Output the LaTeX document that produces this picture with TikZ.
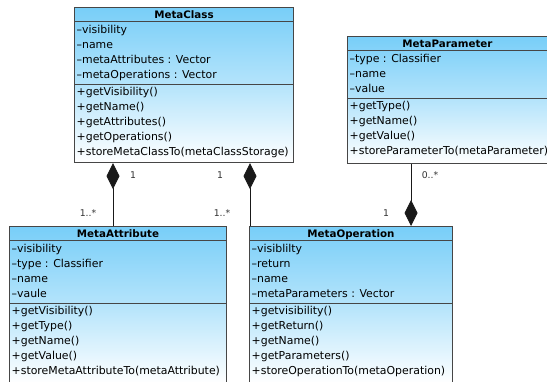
\documentclass[tikz,border=0pt]{standalone}
\usepackage{fontspec}
\setmainfont{DejaVu Sans}
\usepackage{xcolor}
\usepackage{tikz}
\usetikzlibrary{arrows.meta,calc}
\definecolor{umlblue}{RGB}{120,206,248}
\definecolor{umlline}{RGB}{70,70,70}
\tikzset{
  classbox/.style={anchor=north west,inner sep=0pt,draw=umlline,line width=1pt,
    top color=umlblue,bottom color=white,middle color=umlblue!55!white},
  classtitle/.style={anchor=base,inner sep=0pt,font=\bfseries\fontsize{10.3}{12}\selectfont},
  members/.style={anchor=north west,inner sep=0pt,align=left,
    font=\fontsize{10.9}{15}\selectfont},
  divider/.style={draw=umlline,line width=1pt},
  mult/.style={inner sep=0pt,font=\fontsize{9.3}{11}\selectfont,text=black!80},
  composition/.style={draw=black!90,line width=1pt},
}

\begin{document}
\begin{tikzpicture}[x=1pt,y=-1pt]
  \useasboundingbox (0,0) rectangle (547,381);

  % Classes
  \node[classbox,minimum width=219pt,minimum height=155pt] (metaclass) at (74,7) {};
  \node[classbox,minimum width=200pt,minimum height=127pt] (metaparam) at (347,36) {};
  \node[classbox,minimum width=217pt,minimum height=157pt] (metaattr) at (9,226) {};
  \node[classbox,minimum width=203pt,minimum height=157pt] (metaop) at (249,226) {};

  % MetaClass
  \node[classtitle] (metaclass-title) at ($(metaclass.north)+(0,11)$) {MetaClass};
  \draw[divider] ($(metaclass.north west)+(0,14)$) -- ($(metaclass.north east)+(0,14)$);
  \draw[divider] ($(metaclass.north west)+(0,77)$) -- ($(metaclass.north east)+(0,77)$);
  \node[members] (metaclass-attrs) at ($(metaclass.north west)+(2.5,15.5)$)
       {\strut–visibility\\–name\\–metaAttributes : Vector\\–metaOperations : Vector};
  \node[members] (metaclass-ops) at ($(metaclass.north west)+(2.5,78)$)
       {\strut+getVisibility()\\+getName()\\+getAttributes()\\+getOperations()\\
        +storeMetaClassTo(metaClassStorage)};

  % MetaParameter
  \node[classtitle] (metaparam-title) at ($(metaparam.north)+(0,11)$) {MetaParameter};
  \draw[divider] ($(metaparam.north west)+(0,14)$) -- ($(metaparam.north east)+(0,14)$);
  \draw[divider] ($(metaparam.north west)+(0,62)$) -- ($(metaparam.north east)+(0,62)$);
  \node[members] (metaparam-attrs) at ($(metaparam.north west)+(2.5,15.5)$)
       {\strut–type : Classifier\\–name\\–value};
  \node[members] (metaparam-ops) at ($(metaparam.north west)+(2.5,63)$)
       {\strut+getType()\\+getName()\\+getValue()\\+storeParameterTo(metaParameter)};

  % MetaAttribute
  \node[classtitle] (metaattr-title) at ($(metaattr.north)+(0,11)$) {MetaAttribute};
  \draw[divider] ($(metaattr.north west)+(0,14)$) -- ($(metaattr.north east)+(0,14)$);
  \draw[divider] ($(metaattr.north west)+(0,77)$) -- ($(metaattr.north east)+(0,77)$);
  \node[members] (metaattr-attrs) at ($(metaattr.north west)+(2.5,15.5)$)
       {\strut–visibility\\–type : Classifier\\–name\\–vaule};
  \node[members] (metaattr-ops) at ($(metaattr.north west)+(2.5,78)$)
       {\strut+getVisibility()\\+getType()\\+getName()\\+getValue()\\
        +storeMetaAttributeTo(metaAttribute)};

  % MetaOperation
  \node[classtitle] (metaop-title) at ($(metaop.north)+(0,11)$) {MetaOperation};
  \draw[divider] ($(metaop.north west)+(0,14)$) -- ($(metaop.north east)+(0,14)$);
  \draw[divider] ($(metaop.north west)+(0,77)$) -- ($(metaop.north east)+(0,77)$);
  \node[members] (metaop-attrs) at ($(metaop.north west)+(2.5,15.5)$)
       {\strut–visiblilty\\–return\\–name\\–metaParameters : Vector};
  \node[members] (metaop-ops) at ($(metaop.north west)+(2.5,78)$)
       {\strut+getvisibility()\\+getReturn()\\+getName()\\+getParameters()\\
        +storeOperationTo(metaOperation)};

  % Compositions
  \draw[composition,{Diamond[length=26pt,width=13pt]}-]
       ([xshift=39pt]metaclass.south west) -- ([xshift=104pt]metaattr.north west);
  \draw[composition,{Diamond[length=26pt,width=13pt]}-]
       ([xshift=176pt]metaclass.south west) -- ([xshift=1pt]metaop.north west);
  \draw[composition,-{Diamond[length=26pt,width=13pt]}]
       ([xshift=64pt]metaparam.south west) -- ([xshift=162pt]metaop.north west);

  % Multiplicities
  \node[mult] (attr-one) at (133,175) {1};
  \node[mult] (attr-many) at (88,213) {1..*};
  \node[mult] (op-one) at (220,175) {1};
  \node[mult] (op-many) at (222,213) {1..*};
  \node[mult] (param-many) at (430,175) {0..*};
  \node[mult] (param-one) at (386,213) {1};
\end{tikzpicture}
\end{document}
